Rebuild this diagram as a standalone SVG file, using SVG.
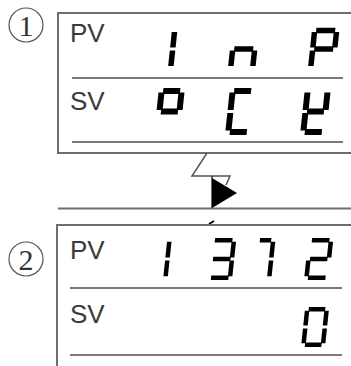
<svg xmlns="http://www.w3.org/2000/svg" width="351" height="366" viewBox="0 0 351 366">
<style>
.box{fill:none;stroke:#6e6e6e;stroke-width:2}
.rule{stroke:#7a7a7a;stroke-width:2}
.lbl{font-family:"Liberation Sans",Arial,sans-serif;font-size:26px;fill:#3a3a3a}
.num{font-family:"Liberation Serif","Times New Roman",serif;font-size:30px;fill:#333;text-anchor:middle}
.circ{fill:none;stroke:#555;stroke-width:1.2}
.seg line{stroke:#000;stroke-linecap:butt}
.rA line{stroke-width:5.5}
.rB line{stroke-width:6}
.rC line,.rD line{stroke-width:4.5}
</style>
<rect width="351" height="366" fill="#fff"/>

<g id="step-1">
  <circle class="circ" cx="26" cy="25" r="17"/>
  <text class="num" x="26" y="36">1</text>
</g>
<g id="step-2">
  <circle class="circ" cx="26" cy="259" r="17"/>
  <text class="num" x="26" y="270">2</text>
</g>

<g id="display-1">
  <rect class="box" x="58" y="13" width="310" height="140"/>
  <line class="rule" x1="72" y1="78" x2="343" y2="78"/>
  <line class="rule" x1="72" y1="142" x2="343" y2="142"/>
  <text class="lbl" x="70" y="42">PV</text>
  <text class="lbl" x="70" y="110">SV</text>
  <!-- PV: 1 n P -->
  <g class="seg rA" transform="translate(168,70) skewX(-6)">
    <line x1="2.5" y1="-38" x2="2.5" y2="-22.5"/>
    <line x1="2.5" y1="-19.5" x2="2.5" y2="-4"/>
  </g>
  <g class="seg rA" transform="translate(228,70) skewX(-6)">
    <line x1="4" y1="-21" x2="23" y2="-21"/>
    <line x1="2.5" y1="-19.5" x2="2.5" y2="-4"/>
    <line x1="24.5" y1="-19.5" x2="24.5" y2="-4"/>
  </g>
  <g class="seg rA" transform="translate(308,70) skewX(-6)">
    <line x1="4" y1="-39.5" x2="23" y2="-39.5"/>
    <line x1="4" y1="-21" x2="23" y2="-21"/>
    <line x1="2.5" y1="-38" x2="2.5" y2="-22.5"/>
    <line x1="2.5" y1="-19.5" x2="2.5" y2="-4"/>
    <line x1="24.5" y1="-38" x2="24.5" y2="-22.5"/>
  </g>
  <!-- SV: o C t -->
  <g class="seg rB" transform="translate(154,135) skewX(-6)">
    <line x1="4.5" y1="-44" x2="21.5" y2="-44"/>
    <line x1="4.5" y1="-23.5" x2="21.5" y2="-23.5"/>
    <line x1="3" y1="-42.5" x2="3" y2="-25"/>
    <line x1="23" y1="-42.5" x2="23" y2="-25"/>
  </g>
  <g class="seg rB" transform="translate(225,135) skewX(-6)">
    <line x1="4.5" y1="-44" x2="21.5" y2="-44"/>
    <line x1="4.5" y1="-3" x2="21.5" y2="-3"/>
    <line x1="3" y1="-42.5" x2="3" y2="-25"/>
    <line x1="3" y1="-22" x2="3" y2="-4.5"/>
  </g>
  <g class="seg rB" transform="translate(300,135) skewX(-6)">
    <line x1="4.5" y1="-23.5" x2="21.5" y2="-23.5"/>
    <line x1="4.5" y1="-3" x2="21.5" y2="-3"/>
    <line x1="3" y1="-42.5" x2="3" y2="-25"/>
    <line x1="3" y1="-22" x2="3" y2="-4.5"/>
    <line x1="23" y1="-42.5" x2="23" y2="-25"/>
  </g>
</g>

<g id="connectors">
  <line x1="58" y1="208.5" x2="351" y2="208.5" stroke="#6e6e6e" stroke-width="2"/>
  <polyline points="207,153 192,176 230,176 226,185" fill="none" stroke="#555" stroke-width="1.5"/>
  <line x1="212" y1="176" x2="212" y2="208" stroke="#333" stroke-width="1.5"/>
  <polygon points="212,178 212,208 237,193" fill="#000"/>
  <line x1="209" y1="224" x2="214" y2="221" stroke="#000" stroke-width="2"/>
</g>

<g id="display-2">
  <rect class="box" x="57" y="225" width="310" height="150"/>
  <line class="rule" x1="70" y1="288" x2="342" y2="288"/>
  <line class="rule" x1="70" y1="355" x2="342" y2="355"/>
  <text class="lbl" x="70" y="259">PV</text>
  <text class="lbl" x="70" y="323">SV</text>
  <!-- PV: 1 3 7 2 -->
  <g class="seg rC" transform="translate(163,280) skewX(-6)">
    <line x1="2.25" y1="-38.25" x2="2.25" y2="-22.5"/>
    <line x1="2.25" y1="-19.5" x2="2.25" y2="-3.75"/>
  </g>
  <g class="seg rC" transform="translate(207,280) skewX(-6)">
    <line x1="3.75" y1="-39.75" x2="21.25" y2="-39.75"/>
    <line x1="3.75" y1="-21" x2="21.25" y2="-21"/>
    <line x1="3.75" y1="-2.25" x2="21.25" y2="-2.25"/>
    <line x1="22.75" y1="-38.25" x2="22.75" y2="-22.5"/>
    <line x1="22.75" y1="-19.5" x2="22.75" y2="-3.75"/>
  </g>
  <g class="seg rC" transform="translate(252,280) skewX(-6)">
    <line x1="3.75" y1="-39.75" x2="15" y2="-39.75"/>
    <line x1="17" y1="-38.25" x2="17" y2="-22.5"/>
    <line x1="17" y1="-19.5" x2="17" y2="-3.75"/>
  </g>
  <g class="seg rC" transform="translate(304,280) skewX(-6)">
    <line x1="3.75" y1="-39.75" x2="21.25" y2="-39.75"/>
    <line x1="3.75" y1="-21" x2="21.25" y2="-21"/>
    <line x1="3.75" y1="-2.25" x2="21.25" y2="-2.25"/>
    <line x1="22.75" y1="-38.25" x2="22.75" y2="-22.5"/>
    <line x1="2.25" y1="-19.5" x2="2.25" y2="-3.75"/>
  </g>
  <!-- SV: 0 -->
  <g class="seg rD" transform="translate(301,347) skewX(-6)">
    <line x1="3.75" y1="-37.75" x2="20.25" y2="-37.75"/>
    <line x1="3.75" y1="-2.25" x2="20.25" y2="-2.25"/>
    <line x1="2.25" y1="-36.25" x2="2.25" y2="-21.5"/>
    <line x1="2.25" y1="-18.5" x2="2.25" y2="-3.75"/>
    <line x1="21.75" y1="-36.25" x2="21.75" y2="-21.5"/>
    <line x1="21.75" y1="-18.5" x2="21.75" y2="-3.75"/>
  </g>
</g>
</svg>
